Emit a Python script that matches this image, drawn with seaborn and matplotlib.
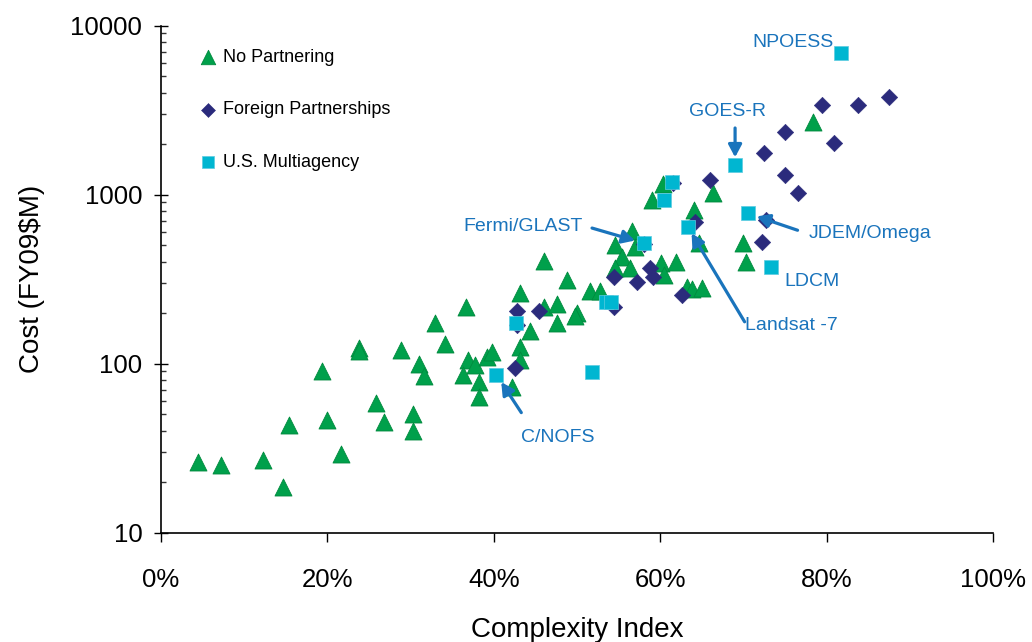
import matplotlib
matplotlib.use("Agg")
import matplotlib.pyplot as plt
import seaborn as sns
from matplotlib.ticker import PercentFormatter, FixedLocator, LogLocator, NullFormatter, FuncFormatter

# Complexity index (%) and cost (FY09 $M) for each mission category
no_partner_x = [4.4, 7.2, 12.2, 14.7, 15.4, 19.4, 20.0, 21.6, 23.8, 23.8, 25.9, 26.8, 28.8,
                30.3, 30.3, 31.0, 31.6, 32.9, 34.1, 36.6, 36.9, 36.3, 37.8, 38.2, 38.2, 39.2,
                39.8, 42.2, 43.2, 43.2, 43.2, 44.4, 46.0, 46.0, 47.6, 47.6, 48.8, 50.0, 49.8,
                51.6, 52.8, 54.6, 55.4, 54.6, 56.4, 56.6, 57.0, 59.0, 60.3, 60.1, 61.9, 60.4,
                63.2, 63.8, 65.0, 64.1, 64.7, 66.3, 70.0, 70.3, 78.4]
no_partner_y = [26, 25, 27, 18.7, 43, 90, 46, 29, 123, 118, 58, 45, 120,
                50, 40, 100, 84, 174, 130, 217, 105, 86, 98, 78, 63, 110,
                117, 73, 260, 125, 105, 156, 403, 217, 225, 174, 313, 200, 191,
                268, 268, 502, 424, 366, 366, 612, 489, 933, 1161, 392, 400, 334,
                284, 276, 279, 809, 514, 1021, 518, 400, 2698]

foreign_x = [42.8, 45.4, 42.6, 42.8, 54.4, 54.4, 58.1, 58.8, 59.1, 57.2, 62.6, 64.2,
             66.0, 61.5, 72.5, 75.0, 75.0, 76.6, 79.4, 80.9, 83.8, 87.5, 72.7, 72.2]
foreign_y = [205, 204, 94, 169, 327, 217, 506, 366, 327, 305, 254, 687,
             1218, 1170, 1754, 2354, 1303, 1016, 3388, 2028, 3388, 3760, 706, 526]

multi_x = [40.3, 42.7, 51.8, 53.5, 54.1, 58.0, 60.5, 61.4, 63.3, 69.0, 70.5, 73.3, 81.7]
multi_y = [86, 173, 89, 230, 230, 516, 927, 1191, 644, 1496, 774, 371, 6900]
multi_names = ["C/NOFS", "", "", "", "", "Fermi/GLAST", "", "", "Landsat -7",
               "GOES-R", "JDEM/Omega", "LDCM", "NPOESS"]

series_labels = ["No Partnering", "Foreign Partnerships", "U.S. Multiagency"]
y_ticks = [10, 100, 1000, 10000]
x_ticks = [0, 20, 40, 60, 80, 100]

GREEN = "#00A04B"
GREEN_EDGE = "#008A3E"
NAVY = "#2B2B7C"
CYAN = "#00B6D1"
BLUE = "#1A74BC"

sns.set_theme(style="white")
plt.rcParams["font.family"] = ["Liberation Sans", "DejaVu Sans"]
plt.rcParams["text.color"] = "black"
plt.rcParams["axes.labelcolor"] = "black"
plt.rcParams["xtick.labelcolor"] = "black"
plt.rcParams["ytick.labelcolor"] = "black"

W, H = 1032, 642
fig = plt.figure(figsize=(W / 100, H / 100), dpi=100)
ax = fig.add_axes([161 / W, 1 - 532.5 / H, 832 / W, 507 / H])

sns.scatterplot(x=no_partner_x, y=no_partner_y, marker="^", s=150, color=GREEN,
                edgecolor=GREEN_EDGE, linewidth=0.6, ax=ax, label=series_labels[0], zorder=3)
sns.scatterplot(x=foreign_x, y=foreign_y, marker="D", s=70, color=NAVY,
                edgecolor=NAVY, linewidth=0.4, ax=ax, label=series_labels[1], zorder=4)
sns.scatterplot(x=multi_x, y=multi_y, marker="s", s=105, color=CYAN,
                edgecolor="#5CCBE0", linewidth=0.5, ax=ax, label=series_labels[2], zorder=5)

ax.set_yscale("log")
ax.set_xlim(0, 100)
ax.set_ylim(10, 10000)

ax.xaxis.set_major_locator(FixedLocator(x_ticks))
ax.xaxis.set_major_formatter(PercentFormatter(xmax=100, decimals=0))
ax.yaxis.set_major_locator(FixedLocator(y_ticks))
ax.yaxis.set_major_formatter(FuncFormatter(lambda v, p: f"{v:.0f}"))
ax.yaxis.set_minor_locator(LogLocator(base=10, subs=range(2, 10)))
ax.yaxis.set_minor_formatter(NullFormatter())

for side in ("top", "right"):
    ax.spines[side].set_visible(False)
for side in ("left", "bottom"):
    ax.spines[side].set_color("black")
    ax.spines[side].set_linewidth(1.2)

ax.tick_params(axis="y", which="major", direction="inout", length=10, width=1.0,
               color="black", labelsize=18.5, pad=8.5, left=True)
ax.tick_params(axis="y", which="minor", direction="in", length=3.6, width=1.0,
               color="#333333", left=True)
ax.tick_params(axis="x", which="major", direction="out", length=6.5, width=1.0,
               color="black", labelsize=18.5, pad=19, bottom=True)

ax.set_xlabel("Complexity Index", fontsize=20, labelpad=18)
ax.set_ylabel("Cost (FY09$M)", fontsize=20, labelpad=18)

leg = ax.legend(loc="upper left", bbox_to_anchor=(0.035, 0.971), frameon=False,
                fontsize=13, labelspacing=1.95, handlelength=1.0, handletextpad=0.3,
                borderpad=0, markerscale=0.85)

# Callouts for named multiagency missions: (text offset, arrow start offset, tip gap) in points
callouts = {
    "NPOESS": ((-34.6, 7.7), None, 0),
    "GOES-R": ((-5.8, 38.2), (0, 26.6), 5.5),
    "Fermi/GLAST": ((-86.8, 12.2), (-37.1, 10.8), 6.5),
    "JDEM/Omega": ((88.0, -14.2), (36.0, -12.2), 7.0),
    "LDCM": ((29.5, -10.6), None, 0),
    "Landsat -7": ((74.9, -70.8), (41.0, -68.4), 5.5),
    "C/NOFS": ((43.9, -45.1), (18.0, -27.4), 6.5),
}
for x, y, name in zip(multi_x, multi_y, multi_names):
    if not name:
        continue
    text_off, arrow_off, gap = callouts[name]
    ax.annotate(name, xy=(x, y), xytext=text_off, textcoords="offset points",
                ha="center", va="center", fontsize=14, color=BLUE, zorder=6)
    if arrow_off is not None:
        ax.annotate("", xy=(x, y), xytext=arrow_off, textcoords="offset points",
                    arrowprops=dict(arrowstyle="-|>,head_length=0.75,head_width=0.4",
                                    mutation_scale=10, color=BLUE, lw=2.3,
                                    shrinkA=0, shrinkB=gap),
                    zorder=6)

fig.savefig("out.png", dpi=100, facecolor="white")
